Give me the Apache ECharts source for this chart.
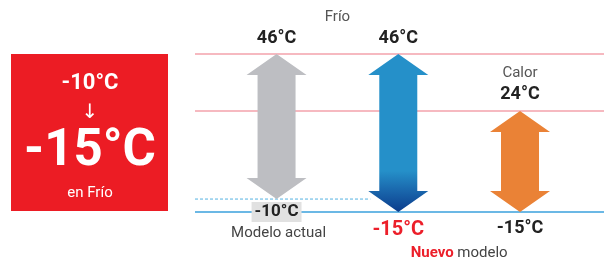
<!DOCTYPE html>
<html>
<head>
<meta charset="utf-8">
<script src="https://cdn.jsdelivr.net/npm/echarts@6/dist/echarts.min.js"></script>
<style>
  html, body { margin: 0; padding: 0; background: #fff; }
  #main { width: 604px; height: 261px; }
</style>
</head>
<body>
<div id="main"></div>
<script>
// datos
const models = ['Modelo actual', 'Nuevo modelo', 'Nuevo modelo'];
const modes = ['Frío', 'Frío', 'Calor'];
const maxTemps = [46, 46, 24];
const minTemps = [-10, -15, -15];
const guideTemps = [46, 24, -15];
const oldLimit = -10;
const badgeFrom = '-10°C';
const badgeTo = '-15°C';
const badgeNote = 'en Frío';

const FONT = 'Roboto, "Noto Sans", sans-serif';
const fmt = v => v + '°C';

const arrowFill = [
  '#bdbec2',
  new echarts.graphic.LinearGradient(0, 0, 0, 1, [
    { offset: 0, color: '#2590c9' },
    { offset: 0.74, color: '#2590c9' },
    { offset: 0.86, color: '#1a68ad' },
    { offset: 1, color: '#0b3c8c' }
  ]),
  '#ea8236'
];

const chart = echarts.init(document.getElementById('main'));

function guideItem(params, api) {
  const cs = params.coordSys;
  const y = api.coord([0, api.value(0)])[1];
  const isBase = api.value(0) === Math.min(...guideTemps);
  return {
    type: 'line',
    shape: { x1: cs.x, y1: y, x2: cs.x + cs.width, y2: y },
    style: { stroke: isBase ? '#3aa1dc' : '#f3a2ab', lineWidth: 1.5 }
  };
}

function arrowItem(params, api) {
  const i = params.dataIndex;
  const top = api.coord([api.value(0), api.value(1)]);
  const bot = api.coord([api.value(0), api.value(2)]);
  const cx = top[0], y0 = top[1], y1 = bot[1];
  const hw = 30, sw = 19, hh = 21;
  const base = api.coord([0, Math.min(...minTemps)])[1];
  const children = [];

  // flecha doble
  children.push({
    type: 'polygon',
    shape: {
      points: [
        [cx, y0], [cx + hw, y0 + hh], [cx + sw, y0 + hh], [cx + sw, y1 - hh],
        [cx + hw, y1 - hh], [cx, y1], [cx - hw, y1 - hh], [cx - sw, y1 - hh],
        [cx - sw, y0 + hh], [cx - hw, y0 + hh]
      ]
    },
    style: { fill: arrowFill[i] }
  });

  // etiqueta superior
  children.push({
    type: 'text', x: cx, y: y0 - 16,
    style: { text: fmt(api.value(1)), fill: '#222', font: 'bold 18px ' + FONT, align: 'center', verticalAlign: 'middle' }
  });

  if (i === 1) {
    const x0 = api.coord([0, 0])[0];
    children.push({
      type: 'text', x: (x0 + cx) / 2, y: y0 - 37,
      style: { text: modes[i], fill: '#555', font: '15px ' + FONT, align: 'center', verticalAlign: 'middle' }
    });
  }
  if (i === 2) {
    children.push({
      type: 'text', x: cx, y: y0 - 38,
      style: { text: modes[i], fill: '#555', font: '15px ' + FONT, align: 'center', verticalAlign: 'middle' }
    });
  }

  // etiqueta inferior
  if (i === 0) {
    children.push({
      type: 'text', x: cx, y: base,
      style: {
        text: fmt(api.value(2)), fill: '#222', font: 'bold 17px ' + FONT,
        align: 'center', verticalAlign: 'middle',
        backgroundColor: '#e1e1e1', padding: [2, 3, 1, 3]
      }
    });
    children.push({
      type: 'text', x: cx + 2, y: base + 21,
      style: { text: models[i], fill: '#444', font: '15px ' + FONT, align: 'center', verticalAlign: 'middle' }
    });
  } else if (i === 1) {
    children.push({
      type: 'text', x: cx, y: base + 18,
      style: { text: fmt(api.value(2)), fill: '#ec1f2a', font: 'bold 20px ' + FONT, align: 'center', verticalAlign: 'middle' }
    });
  } else {
    children.push({
      type: 'text', x: cx, y: base + 16,
      style: { text: fmt(api.value(2)), fill: '#222', font: 'bold 18px ' + FONT, align: 'center', verticalAlign: 'middle' }
    });
    const xPrev = api.coord([1, 0])[0];
    const parts = models[i].split(' ');
    children.push({
      type: 'text', x: (xPrev + cx) / 2, y: base + 41,
      style: {
        text: '{r|' + parts[0] + '} {g|' + parts[1] + '}',
        font: '15px ' + FONT, align: 'center', verticalAlign: 'middle',
        rich: {
          r: { fill: '#ec1f2a', font: 'bold 15px ' + FONT },
          g: { fill: '#444', font: '15px ' + FONT }
        }
      }
    });
  }

  return { type: 'group', children };
}

const options = {
  animation: false,
  grid: { left: 195, right: 0, top: 54, bottom: 49 },
  xAxis: { type: 'value', min: -0.67, max: 2.69, show: false },
  yAxis: {
    type: 'value',
    min: Math.min(...guideTemps),
    max: Math.max(...guideTemps),
    show: false
  },
  graphic: [{
    type: 'group', left: 11, top: 54,
    children: [
      { type: 'rect', shape: { x: 0, y: 0, width: 157, height: 157 }, style: { fill: '#ec1c24' } },
      { type: 'text', x: 79, y: 29, style: { text: badgeFrom, fill: '#fff', font: 'bold 22px ' + FONT, align: 'center', verticalAlign: 'middle' } },
      { type: 'text', x: 79, y: 59, style: { text: '↓', fill: '#fff', font: '20px "DejaVu Sans", sans-serif', align: 'center', verticalAlign: 'middle' } },
      { type: 'text', x: 79, y: 98, style: { text: badgeTo, fill: '#fff', font: 'bold 51px ' + FONT, align: 'center', verticalAlign: 'middle' } },
      { type: 'text', x: 79, y: 139, style: { text: badgeNote, fill: '#fff', font: '15px ' + FONT, align: 'center', verticalAlign: 'middle' } }
    ]
  }],
  series: [
    {
      type: 'custom',
      renderItem: guideItem,
      data: guideTemps.map(v => [v]),
      encode: { y: 0 },
      silent: true
    },
    {
      type: 'custom',
      silent: true,
      data: [[oldLimit]],
      encode: { y: 0 },
      renderItem: (params, api) => {
        const cs = params.coordSys;
        const y = api.coord([0, api.value(0)])[1];
        const xEnd = api.coord([1, 0])[0] - 28;
        return {
          type: 'line',
          shape: { x1: cs.x, y1: y, x2: xEnd, y2: y },
          style: { stroke: '#55b2e2', lineWidth: 1, lineDash: [3, 2] }
        };
      }
    },
    {
      type: 'custom',
      renderItem: arrowItem,
      data: maxTemps.map((v, i) => [i, v, minTemps[i]]),
      encode: { x: 0, y: [1, 2] },
      clip: false,
      z: 3
    }
  ]
};

chart.setOption(options);
</script>
</body>
</html>
